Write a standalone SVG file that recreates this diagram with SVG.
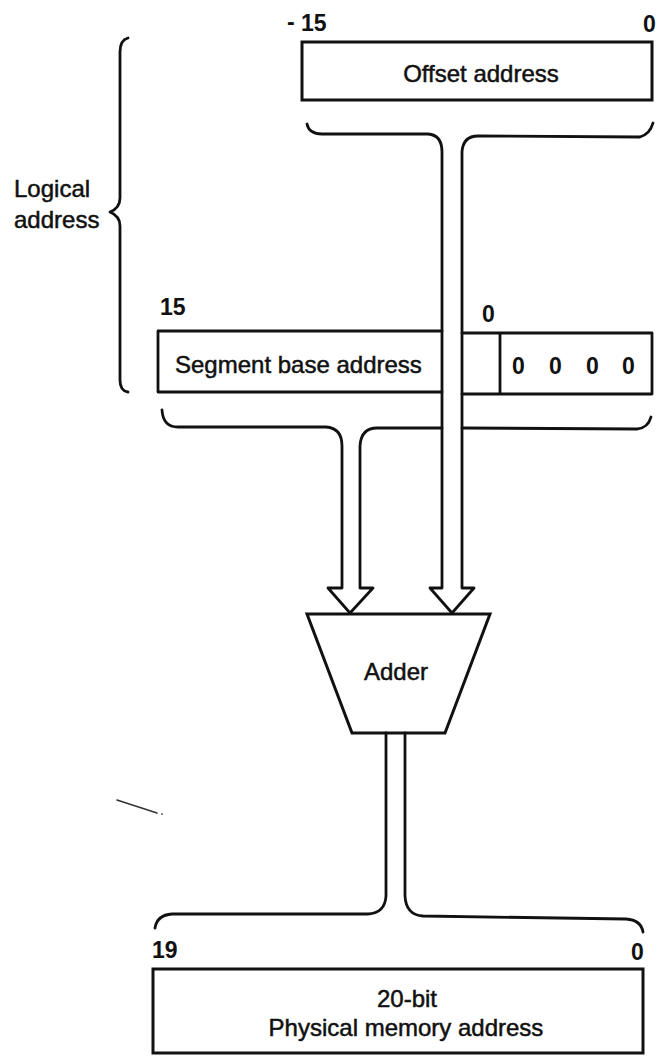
<svg xmlns="http://www.w3.org/2000/svg" width="657" height="1059" viewBox="0 0 657 1059">
<style>
.ln{fill:none;stroke:#111;stroke-width:2.8;stroke-linejoin:round;stroke-linecap:round}
.box{fill:#fff;stroke:#111;stroke-width:3}
.t{font-family:"Liberation Sans",Arial,sans-serif;font-size:24px;fill:#111;stroke:#111;stroke-width:0.5}
.n{font-family:"Liberation Sans",Arial,sans-serif;font-size:23px;font-weight:bold;fill:#111}
.m{text-anchor:middle}
</style>
<rect width="657" height="1059" fill="#fff"/>

<g id="logical-brace">
<path class="ln" d="M128,38 Q120,40 120,52 L120,198 Q120,208 110,212 Q120,216 120,226 L120,380 Q120,391 128,392"/>
<text class="t" x="14" y="197">Logical</text>
<text class="t" x="14" y="228">address</text>
</g>

<g id="offset">
<rect class="box" x="302" y="42" width="350" height="58"/>
<text class="t m" x="481" y="82">Offset address</text>
<text class="n" x="287" y="30">-</text>
<text class="n" x="301" y="31">15</text>
<text class="n" x="643" y="32">0</text>
</g>

<g id="segment">
<path class="ln" d="M442,331 L158,331 L158,392 L442,392"/>
<path class="ln" d="M462,333 L652,333 L652,394 L462,394 M500,333 L500,394"/>
<text class="t" x="175" y="373">Segment base address</text>
<text class="n" x="512" y="374">0</text>
<text class="n" x="549" y="374">0</text>
<text class="n" x="586" y="374">0</text>
<text class="n" x="622" y="374">0</text>
<text class="n" x="160" y="315">15</text>
<text class="n" x="482" y="322">0</text>
</g>

<g id="adder">
<polygon class="box" points="307,614 490,614 445,733 352,733"/>
<text class="t m" x="396" y="680">Adder</text>
</g>

<g id="physical">
<rect class="box" x="153" y="969" width="490" height="84"/>
<text class="t m" x="407" y="1007">20-bit</text>
<text class="t m" x="406" y="1036">Physical memory address</text>
<text class="n" x="152" y="958">19</text>
<text class="n" x="631" y="960">0</text>
</g>

<g id="connectors">
<path class="ln" d="M307,124 Q309,134 322,134 L428,134 Q442,135 442,152 L442,588 L430,588 L452,613 L474,588 L462,588 L462,152 Q463,136 478,136 L640,137 Q650,134 653,123"/>
<path class="ln" d="M162,410 Q163,427 178,427 L326,427 Q342,428 342,446 L342,588 L328,588 L350,613 L373,588 L360,588 L360,446 Q361,428 377,428 L442,428"/>
<path class="ln" d="M462,428 L637,429 Q648,428 651,417"/>
<path class="ln" d="M386,733 L386,896 Q385,913 368,914 L172,914 Q157,915 155,928"/>
<path class="ln" d="M405,733 L405,896 Q406,915 423,916 L626,919 Q641,920 643,932"/>
</g>

<path d="M117,800 L157,813" fill="none" stroke="#333" stroke-width="1.6" stroke-linecap="round"/>
<circle cx="162" cy="814" r="0.9" fill="#555"/>
</svg>
